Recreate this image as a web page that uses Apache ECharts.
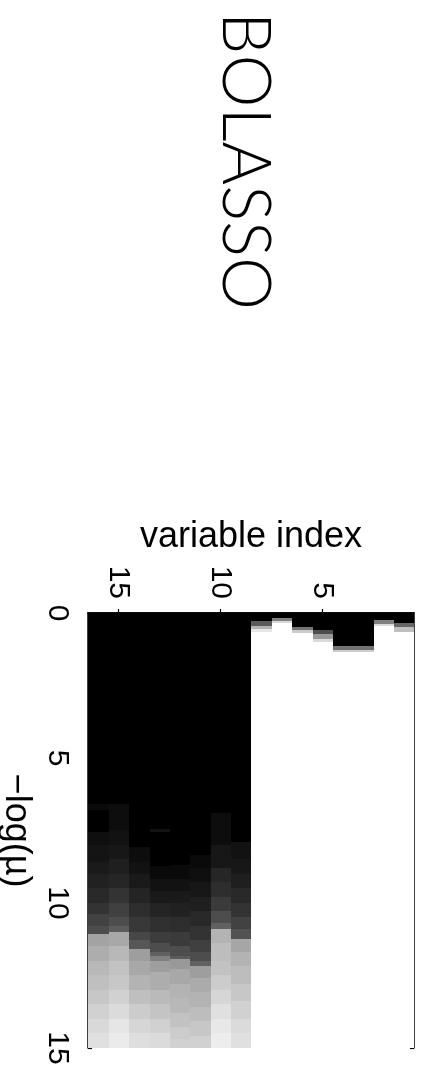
<!DOCTYPE html>
<html>
<head>
<meta charset="utf-8">
<script src="https://cdn.jsdelivr.net/npm/echarts@6/dist/echarts.min.js"></script>
<style>
html,body{margin:0;padding:0;background:#fff;}
#chart{width:423px;height:1077px;}
</style>
</head>
<body>
<div id="chart"></div>
<script>
// Variable indices (columns) and axis ticks
const variableIndex = [1,2,3,4,5,6,7,8,9,10,11,12,13,14,15,16];
const varTicks = [5, 10, 15];
const muTicks = [0, 5, 10, 15];
const muMax = 15;

// Per-variable selection frequency along -log(mu): [muStart, level(0=black..1=white)]
// each level holds until the next muStart (or muMax)
const v1  = [[0,0],[0.37,0.4],[0.5,0.75],[0.67,1]];
const v2  = [[0,0],[0.27,0.5],[0.4,0.85],[0.48,1]];
const v3  = [[0,0],[1.15,0.45],[1.28,0.8],[1.36,1]];
const v4  = [[0,0],[1.15,0.45],[1.28,0.8],[1.36,1]];
const v5  = [[0,0],[0.6,0.3],[0.75,0.6],[0.9,0.85],[1.0,1]];
const v6  = [[0,0],[0.5,0.45],[0.62,0.8],[0.72,1]];
const v7  = [[0,0],[0.18,0.5],[0.3,0.85],[0.37,1]];
const v8  = [[0,0],[0.3,0.35],[0.45,0.7],[0.58,0.9],[0.67,1]];
const v9  = [[0,0],[7.9,0.07],[8.5,0.09],[9.0,0.12],[9.5,0.16],[10.0,0.2],[10.5,0.26],[10.9,0.32],[11.25,0.65],[11.7,0.7],[12.2,0.74],[12.8,0.78],[13.4,0.82],[14.0,0.86],[14.5,0.88]];
const v10 = [[0,0],[6.9,0.05],[8.0,0.09],[8.8,0.15],[9.3,0.18],[9.8,0.23],[10.3,0.3],[10.7,0.38],[10.93,0.7],[11.4,0.74],[12.0,0.76],[12.5,0.8],[13.0,0.84],[13.5,0.88],[14.0,0.91],[14.5,0.93]];
const v11 = [[0,0],[8.35,0.04],[8.8,0.06],[9.3,0.09],[9.8,0.12],[10.3,0.16],[10.8,0.2],[11.3,0.25],[11.7,0.3],[12.0,0.38],[12.2,0.62],[12.6,0.67],[13.1,0.7],[13.6,0.74],[14.1,0.78],[14.6,0.82]];
const v12 = [[0,0],[8.7,0.04],[9.2,0.07],[9.6,0.1],[10.0,0.13],[10.5,0.18],[11.0,0.23],[11.5,0.3],[11.85,0.36],[11.95,0.6],[12.3,0.66],[12.8,0.7],[13.3,0.72],[13.8,0.76],[14.3,0.8],[14.7,0.82]];
const v13 = [[0,0],[7.48,0.07],[7.57,0],[8.75,0.04],[9.2,0.07],[9.6,0.1],[10.0,0.14],[10.5,0.19],[11.0,0.24],[11.4,0.3],[11.7,0.38],[11.85,0.5],[12.0,0.62],[12.4,0.68],[13.0,0.73],[13.5,0.77],[14.0,0.82],[14.5,0.86]];
const v14 = [[0,0],[8.1,0.05],[8.6,0.07],[9.0,0.1],[9.5,0.14],[10.0,0.18],[10.5,0.22],[11.0,0.28],[11.3,0.34],[11.6,0.62],[12.0,0.66],[12.5,0.7],[13.0,0.75],[13.5,0.8],[14.0,0.84],[14.5,0.87]];
const v15 = [[0,0],[6.6,0.05],[7.5,0.07],[8.0,0.09],[8.5,0.12],[9.0,0.15],[9.5,0.2],[10.0,0.25],[10.5,0.3],[10.8,0.36],[11.0,0.66],[11.5,0.72],[12.0,0.76],[12.5,0.78],[13.0,0.82],[13.5,0.86],[14.0,0.9],[14.5,0.92]];
const v16 = [[0,0],[6.6,0.04],[6.82,0],[7.58,0.06],[8.0,0.08],[8.6,0.1],[9.0,0.13],[9.5,0.16],[10.0,0.2],[10.4,0.26],[10.8,0.3],[11.1,0.64],[11.5,0.68],[12.0,0.72],[12.5,0.75],[13.0,0.78],[13.5,0.82],[14.0,0.85],[14.5,0.88]];

const columns = [v1,v2,v3,v4,v5,v6,v7,v8,v9,v10,v11,v12,v13,v14,v15,v16];

// Build rectangles: [variable, muStart, muEnd, level]
const cells = [];
columns.forEach((col, i) => {
  col.forEach((seg, k) => {
    const end = k + 1 < col.length ? col[k + 1][0] : muMax;
    cells.push([variableIndex[i], seg[0], end, seg[1]]);
  });
});

const FONT = 'Liberation Sans';
const chart = echarts.init(document.getElementById('chart'), null, {renderer: 'canvas'});

const axisLineStyle = {color: '#000', width: 1.5};

chart.setOption({
  animation: false,
  backgroundColor: '#fff',
  textStyle: {fontFamily: FONT, color: '#000'},
  graphic: [{
    type: 'text',
    x: 245, y: 161,
    rotation: -Math.PI / 2,
    style: {text: 'BOLASSO', font: '300 67px Lato', fill: '#000', align: 'center', verticalAlign: 'middle'}
  }],
  grid: {left: 88, top: 613, width: 326, height: 435, containLabel: false, outerBoundsMode: 'none'},
  xAxis: [{
    type: 'value', position: 'top', min: 0.5, max: 16.5, inverse: true,
    name: 'variable index', nameLocation: 'middle', nameGap: 58,
    nameTextStyle: {fontFamily: FONT, fontSize: 36, color: '#000'},
    axisLine: {show: true, lineStyle: axisLineStyle},
    axisTick: {show: true, inside: true, length: 4, customValues: varTicks, lineStyle: {color: '#000', width: 1.2}},
    axisLabel: {show: true, rotate: -90, customValues: varTicks, fontSize: 30, fontFamily: FONT, color: '#000', margin: 14},
    splitLine: {show: false}
  }, {
    type: 'value', position: 'bottom', min: 0.5, max: 16.5, inverse: true,
    axisLine: {show: true, lineStyle: axisLineStyle},
    axisTick: {show: true, inside: true, length: 4, customValues: varTicks, lineStyle: {color: '#000', width: 1.2}},
    axisLabel: {show: false},
    splitLine: {show: false}
  }],
  yAxis: [{
    type: 'value', position: 'left', min: 0, max: 15, interval: 5, inverse: true,
    name: '\u2212log(\u00b5)', nameLocation: 'middle', nameGap: 46, nameRotate: -90,
    nameTextStyle: {fontFamily: FONT, fontSize: 36, color: '#000'},
    axisLine: {show: true, lineStyle: axisLineStyle},
    axisTick: {show: true, inside: true, length: 4, customValues: muTicks, lineStyle: {color: '#000', width: 1.2}},
    axisLabel: {show: true, rotate: -90, customValues: muTicks, fontSize: 30, fontFamily: FONT, color: '#000', margin: 16},
    splitLine: {show: false}
  }, {
    type: 'value', position: 'right', min: 0, max: 15, interval: 5, inverse: true,
    axisLine: {show: true, lineStyle: axisLineStyle},
    axisTick: {show: true, inside: true, length: 4, customValues: muTicks, lineStyle: {color: '#000', width: 1.2}},
    axisLabel: {show: false},
    splitLine: {show: false}
  }],
  series: [{
    type: 'custom',
    xAxisIndex: 0, yAxisIndex: 0,
    clip: true,
    data: cells,
    renderItem: function (params, api) {
      const v = api.value(0);
      const a = api.coord([v - 0.5, api.value(1)]);
      const b = api.coord([v + 0.5, api.value(2)]);
      const g = Math.round(api.value(3) * 255);
      const x = Math.floor(Math.min(a[0], b[0]));
      const y = Math.floor(Math.min(a[1], b[1]));
      const x2 = Math.ceil(Math.max(a[0], b[0]));
      const y2 = Math.ceil(Math.max(a[1], b[1]));
      return {
        type: 'rect',
        shape: {x: x, y: y, width: x2 - x, height: y2 - y},
        style: {fill: 'rgb(' + g + ',' + g + ',' + g + ')', stroke: null}
      };
    }
  }]
});
</script>
</body>
</html>
